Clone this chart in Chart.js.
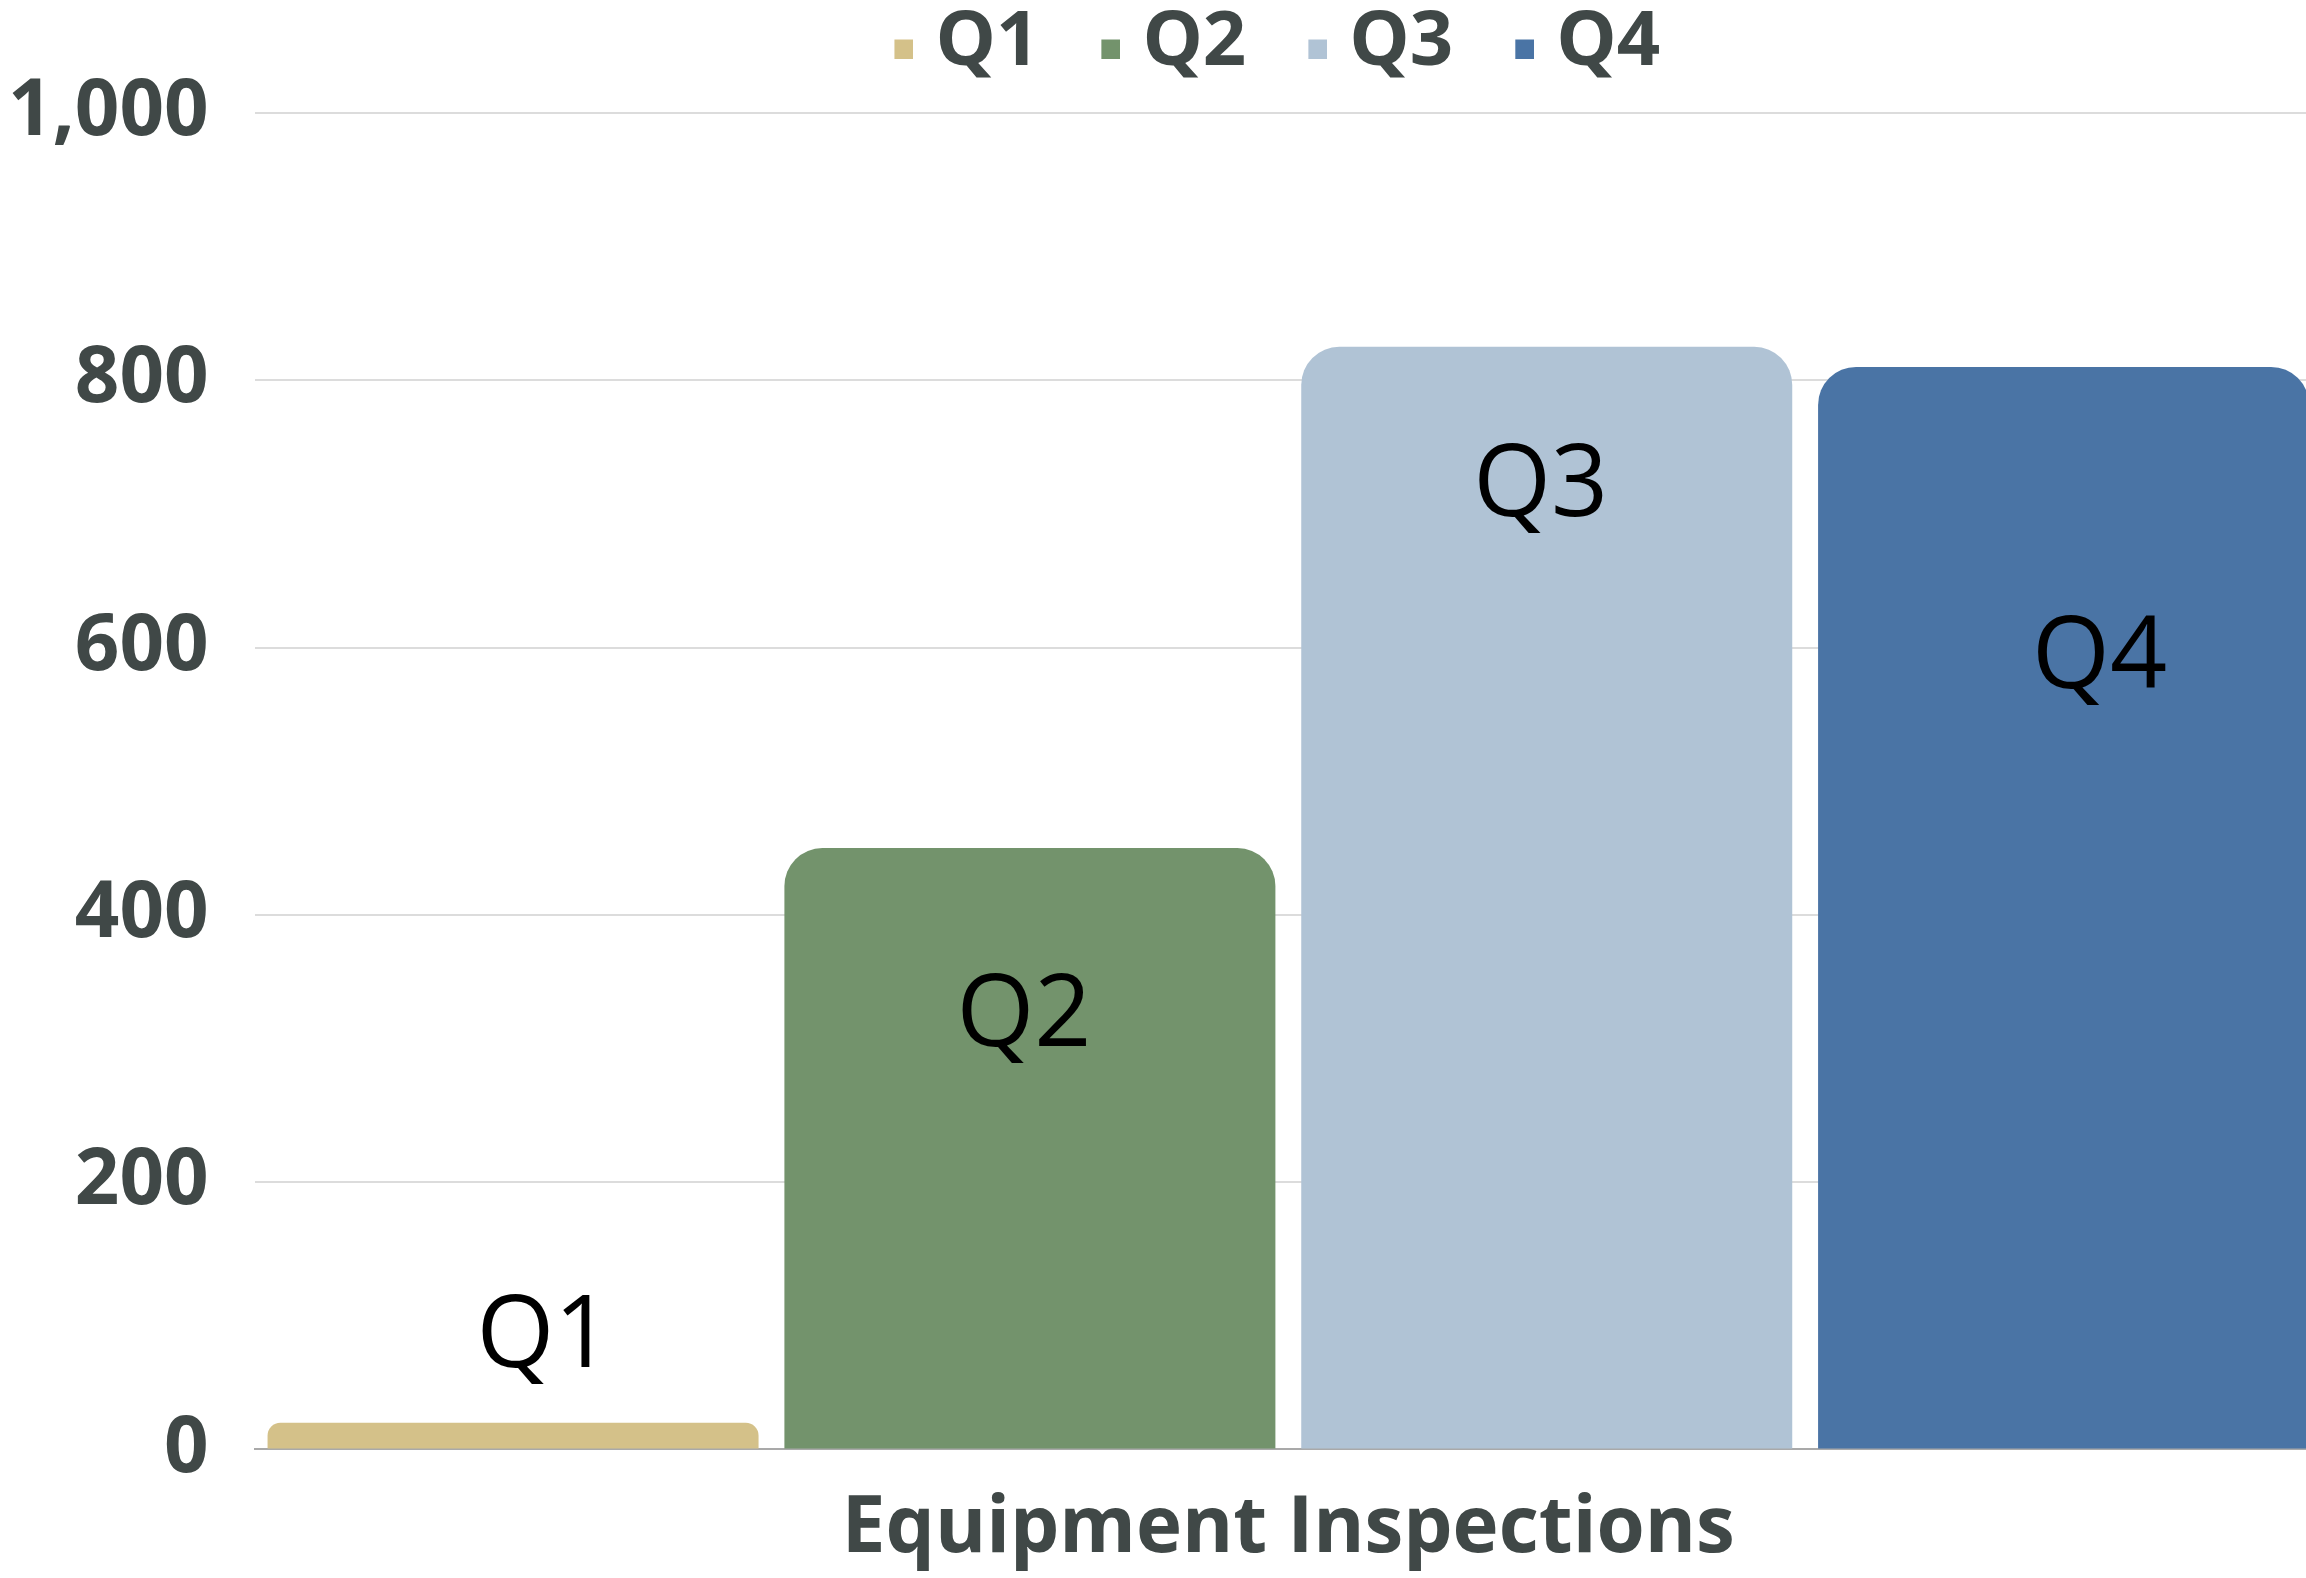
<!DOCTYPE html>
<html>
<head>
<meta charset="utf-8">
<script src="https://cdn.jsdelivr.net/npm/chart.js@4"></script>
<style>
  html, body { margin: 0; padding: 0; background: #fff; overflow: hidden; width: 2306px; height: 1578px; position: relative; }
  /* the canvas is a bit larger than the page so the last bar runs off the right edge */
  #wrap { position: absolute; left: -38px; top: -41px; width: 2360px; height: 1644px; }
</style>
</head>
<body>
<div id="wrap"><canvas id="inspections"></canvas></div>
<script>
var categories = ['Equipment Inspections'];
var quarters = ['Q1', 'Q2', 'Q3', 'Q4'];
var q1 = [20];
var q2 = [450];
var q3 = [825];
var q4 = [810];
var yTicks = [0, 200, 400, 600, 800, 1000];

var colours = ['#D4C189', '#73936C', '#B0C3D5', '#4A74A5'];
var textColour = '#404847';
// where the label sits relative to the top of its bar (px)
var labelDx = [31, -6, -6, 36];
var labelDy = [-84, 169, 141, 293];
var legendShift = -19;

// legend swatch: small square drawn to the right of its slot so it sits close to the text
function swatch(colour) {
    var c = document.createElement('canvas');
    c.width = 51;
    c.height = 31;
    var g = c.getContext('2d');
    g.fillStyle = colour;
    g.fillRect(32, 12, 19, 19);
    return c;
}

var barLabels = {
    id: 'barLabels',
    afterLayout: function(chart) {
        // nudge the legend a little left of the plot centre
        chart.legend.left += legendShift;
        chart.legend.right += legendShift;
    },
    afterDatasetsDraw: function(chart) {
        var ctx = chart.ctx;
        ctx.save();
        ctx.font = 'normal 100px "Open Sans"';
        ctx.fillStyle = '#000';
        ctx.textAlign = 'center';
        ctx.textBaseline = 'middle';
        chart.data.datasets.forEach(function(ds, i) {
            var bar = chart.getDatasetMeta(i).data[0];
            ctx.fillText(ds.label, bar.x + labelDx[i], bar.y + labelDy[i]);
        });
        ctx.restore();
    }
};

var datasets = [q1, q2, q3, q4].map(function(values, i) {
    return {
        label: quarters[i],
        data: values,
        backgroundColor: colours[i],
        pointStyle: swatch(colours[i]),
        xAxisID: 'x'
    };
});

var ctx = document.getElementById('inspections').getContext('2d');
new Chart(ctx, {
    type: 'bar',
    data: {
        labels: categories,
        datasets: datasets
    },
    plugins: [barLabels],
    options: {
        responsive: true,
        maintainAspectRatio: false,
        animation: false,
        layout: { padding: 0 },
        datasets: {
            bar: {
                categoryPercentage: 1,
                barPercentage: 0.95,
                borderRadius: { topLeft: 38, topRight: 38 },
                borderSkipped: 'bottom'
            }
        },
        plugins: {
            tooltip: { enabled: false },
            legend: {
                position: 'top',
                fullSize: false,
                labels: {
                    color: textColour,
                    font: { family: '"Open Sans"', weight: 'bold', size: 76 },
                    usePointStyle: true,
                    boxWidth: 19,
                    boxHeight: 19,
                    padding: 46
                }
            }
        },
        scales: {
            x: {
                grid: { display: false },
                border: { display: true, color: '#A9A9A9', width: 2 },
                ticks: {
                    color: textColour,
                    padding: 26,
                    font: { family: '"Open Sans"', weight: 'bold', size: 78 }
                }
            },
            // empty axis, only keeps a gap between the legend and the plot
            xTop: {
                type: 'category',
                axis: 'x',
                position: 'top',
                grid: { display: false },
                border: { display: false },
                ticks: { display: false },
                afterFit: function(scale) { scale.height = 22; }
            },
            y: {
                min: yTicks[0],
                max: yTicks[yTicks.length - 1],
                afterBuildTicks: function(axis) {
                    axis.ticks = yTicks.map(function(v) { return { value: v }; });
                },
                grid: { color: '#DCDCDC', lineWidth: 2, drawTicks: false },
                border: { display: false },
                ticks: {
                    color: textColour,
                    padding: 46,
                    font: { family: '"Open Sans"', weight: 'bold', size: 78 }
                }
            }
        }
    }
});
</script>
</body>
</html>
